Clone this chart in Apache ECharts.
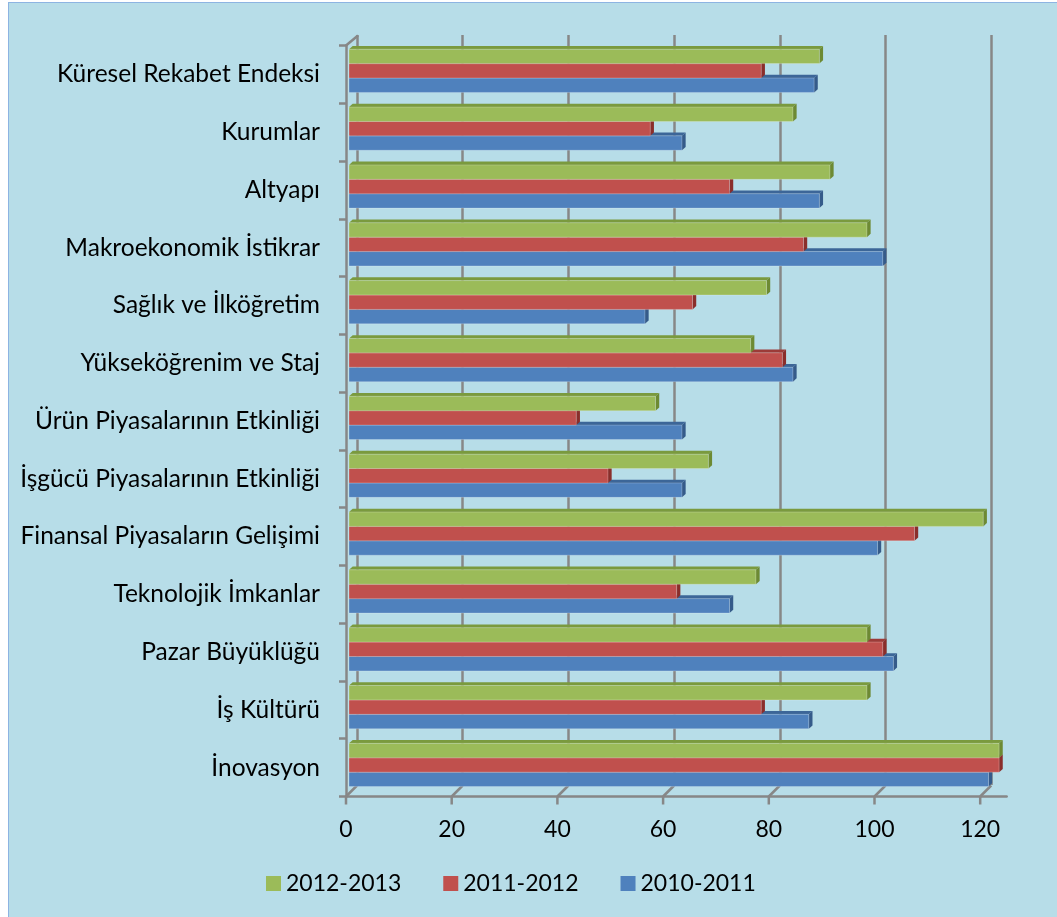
<!DOCTYPE html>
<html>
<head>
<meta charset="utf-8">
<script src="https://cdn.jsdelivr.net/npm/echarts@6/dist/echarts.min.js"></script>
<style>
  html, body { margin: 0; padding: 0; background: #ffffff; }
  #bg { position: absolute; left: 8px; top: 2px; width: 1060px; height: 930px;
        background: #b7dde8; border-left: 1px solid #8db4e2; border-top: 1px solid #8db4e2; }
  #chart { position: absolute; left: 0; top: 0; width: 1057px; height: 917px; }
</style>
</head>
<body>
<div id="bg"></div>
<div id="chart"></div>
<script>
// kategoriler (yukarıdan aşağıya)
const categories = [
  'Küresel Rekabet Endeksi',
  'Kurumlar',
  'Altyapı',
  'Makroekonomik İstikrar',
  'Sağlık ve İlköğretim',
  'Yükseköğrenim ve Staj',
  'Ürün Piyasalarının Etkinliği',
  'İşgücü Piyasalarının Etkinliği',
  'Finansal Piyasaların Gelişimi',
  'Teknolojik İmkanlar',
  'Pazar Büyüklüğü',
  'İş Kültürü',
  'İnovasyon'
];
const years = ['2012-2013', '2011-2012', '2010-2011'];
const values2012 = [89, 84, 91, 98, 79, 76, 58, 68, 120, 77, 98, 98, 123];
const values2011 = [78, 57, 72, 86, 65, 82, 43, 49, 107, 62, 101, 78, 123];
const values2010 = [88, 63, 89, 101, 56, 84, 63, 63, 100, 72, 103, 87, 121];
const xTicks = [0, 20, 40, 60, 80, 100, 120];

const FONT = 'Lato';
const AXIS_GRAY = '#878787';
const PX_PER_UNIT = 5.285;
const DEPTH_X = 3.7, DEPTH_Y = 3.3;

// renk: ön yüz, üst yüz, yan yüz
const palette = {
  '2012-2013': ['#9bbb59', '#7a9a3e', '#6d8a33'],
  '2011-2012': ['#c0504d', '#9c3b38', '#8a2e2b'],
  '2010-2011': ['#4f81bd', '#3c6698', '#355b8a']
};

// 3B görünümlü çubuk çizici
function bar3d(slot, colors) {
  return function (params, api) {
    const cat = api.value(1);
    const start = api.coord([0, cat]);
    const end = api.coord([api.value(0), cat]);
    const band = api.size([0, 1])[1];
    const h = band * 0.249;
    const x0 = start[0], x1 = end[0];
    const y0 = start[1] + (slot - 1.5) * h;
    return {
      type: 'group',
      children: [
        {
          type: 'polygon',
          shape: { points: [[x0, y0], [x0 + DEPTH_X, y0 - DEPTH_Y], [x1 + DEPTH_X, y0 - DEPTH_Y], [x1, y0]] },
          style: { fill: colors[1] }
        },
        {
          type: 'polygon',
          shape: { points: [[x1, y0], [x1 + DEPTH_X, y0 - DEPTH_Y], [x1 + DEPTH_X, y0 + h - DEPTH_Y], [x1, y0 + h]] },
          style: { fill: colors[2] }
        },
        {
          type: 'rect',
          shape: { x: x0, y: y0, width: x1 - x0, height: h },
          style: { fill: colors[0], stroke: 'rgba(255,255,255,0.22)', lineWidth: 1 }
        }
      ]
    };
  };
}

// zemin çizgileri, tik işaretleri ve sol üst köşe
function floorDecor(params, api) {
  const cs = params.coordSys;
  const x = api.coord([api.value(0), 0])[0];
  const floorY = cs.y + cs.height;
  const line = { stroke: AXIS_GRAY, lineWidth: 2.5 };
  const children = [
    { type: 'line', shape: { x1: x, y1: floorY, x2: x, y2: floorY + 8 }, style: line },
    { type: 'line', shape: { x1: x, y1: floorY, x2: x + 11, y2: floorY - 11 }, style: line }
  ];
  if (api.value(0) === 0) {
    children.push({ type: 'line', shape: { x1: x, y1: cs.y, x2: x + 12, y2: cs.y - 10 }, style: line });
  }
  return { type: 'group', children: children };
}

const chart = echarts.init(document.getElementById('chart'));

const seriesDefs = [
  { name: '2010-2011', data: values2010, slot: 2 },
  { name: '2011-2012', data: values2011, slot: 1 },
  { name: '2012-2013', data: values2012, slot: 0 }
];

const option = {
  animation: false,
  legend: {
    data: years,
    left: 266,
    top: 872,
    padding: 0,
    icon: 'rect',
    itemWidth: 15,
    itemHeight: 15,
    itemGap: 42,
    textStyle: { fontFamily: FONT, fontSize: 23, color: '#000' }
  },
  grid: [
    // arka duvar
    { left: 357, top: 35, width: 120 * PX_PER_UNIT, height: 750 },
    // ön eksenler
    { left: 346, top: 45.5, width: 125 * PX_PER_UNIT, height: 751 },
    // çubuklar
    { left: 349, top: 41.9, width: 125 * PX_PER_UNIT, height: 752 }
  ],
  xAxis: [
    {
      gridIndex: 0, type: 'value', min: 0, max: 120, interval: 20,
      axisLine: { show: false }, axisTick: { show: false }, axisLabel: { show: false },
      splitLine: { show: true, lineStyle: { color: AXIS_GRAY, width: 2.5 } }
    },
    {
      gridIndex: 1, type: 'value', min: 0, max: 125, interval: 20,
      axisLine: { show: true, lineStyle: { color: AXIS_GRAY, width: 2.5 } },
      axisTick: { show: false },
      splitLine: { show: false },
      axisLabel: { margin: 22, showMaxLabel: false, fontFamily: FONT, fontSize: 23, color: '#000' }
    },
    {
      gridIndex: 2, type: 'value', min: 0, max: 125, show: false
    }
  ],
  yAxis: [
    { gridIndex: 0, type: 'category', data: categories, inverse: true, show: false },
    {
      gridIndex: 1, type: 'category', data: categories, inverse: true,
      axisLine: { show: true, lineStyle: { color: AXIS_GRAY, width: 2.5 } },
      axisTick: { show: true, length: 7, lineStyle: { color: AXIS_GRAY, width: 2.5 } },
      axisLabel: { margin: 26, fontFamily: FONT, fontSize: 24.5, color: '#000' },
      splitLine: { show: false }
    },
    { gridIndex: 2, type: 'category', data: categories, inverse: true, show: false }
  ],
  series: [
    {
      type: 'custom',
      name: 'zemin',
      xAxisIndex: 1, yAxisIndex: 1,
      data: xTicks.map(v => [v, 0]),
      encode: { x: 0, y: 1 },
      renderItem: floorDecor,
      silent: true,
      z: 1
    }
  ].concat(seriesDefs.map(s => ({
    type: 'custom',
    name: s.name,
    xAxisIndex: 2, yAxisIndex: 2,
    data: s.data.map((v, i) => [v, i]),
    encode: { x: 0, y: 1 },
    itemStyle: { color: palette[s.name][0] },
    renderItem: bar3d(s.slot, palette[s.name]),
    z: 2
  })))
};

chart.setOption(option);
</script>
</body>
</html>
